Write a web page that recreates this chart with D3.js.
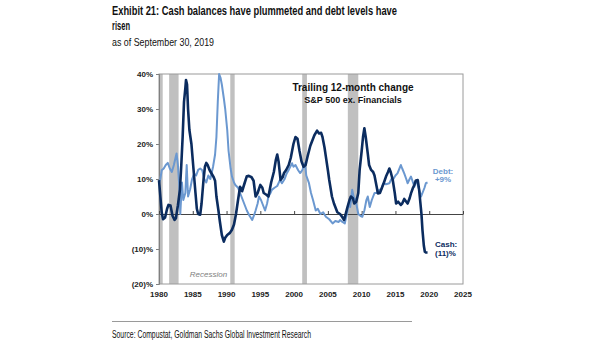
<!DOCTYPE html>
<html>
<head>
<meta charset="utf-8">
<script src="https://cdn.jsdelivr.net/npm/d3@7"></script>
<style>
  html, body { margin: 0; padding: 0; background: #fff; }
  svg { display: block; }
  .title { font-family: "Liberation Sans Narrow", "Arial Narrow", "Liberation Sans", sans-serif; fill: #111; }
  .chart-text { font-family: "Liberation Sans", Arial, sans-serif; }
</style>
</head>
<body>
<svg id="chart"></svg>
<script>
// Trailing 12-month change, S&P 500 ex. Financials (percent)
var cashYear = [1980.0, 1980.2, 1980.4, 1980.6, 1980.9, 1981.2, 1981.4, 1981.7, 1982.0, 1982.3, 1982.5, 1982.8,
  1983.1, 1983.3, 1983.5, 1983.7, 1983.9, 1984.0, 1984.15, 1984.3, 1984.5, 1984.8, 1985.1, 1985.4, 1985.6, 1985.8,
  1986.1, 1986.3, 1986.6, 1986.8, 1987.0, 1987.2, 1987.5, 1987.8, 1988.1, 1988.3, 1988.5, 1988.8, 1989.0, 1989.3,
  1989.6, 1989.8, 1990.1, 1990.5, 1990.8, 1991.1, 1991.4, 1991.7, 1992.0, 1992.3, 1992.7, 1993.0, 1993.3, 1993.7,
  1994.0, 1994.3, 1994.6, 1995.0, 1995.3, 1995.5, 1995.9, 1996.2, 1996.6, 1997.0, 1997.3, 1997.5, 1997.7, 1998.0,
  1998.3, 1998.5, 1998.8, 1999.2, 1999.5, 1999.9, 2000.2, 2000.5, 2000.8, 2001.1, 2001.4, 2001.7, 2002.0, 2002.4,
  2002.7, 2003.0, 2003.4, 2003.7, 2004.0, 2004.2, 2004.5, 2004.7, 2005.0, 2005.2, 2005.6, 2005.9, 2006.4, 2006.8,
  2007.1, 2007.4, 2007.7, 2007.9, 2008.2, 2008.4, 2008.7, 2008.9, 2009.2, 2009.5, 2009.7, 2010.0, 2010.2, 2010.4,
  2010.6, 2010.9, 2011.1, 2011.4, 2011.7, 2011.9, 2012.2, 2012.4, 2012.7, 2012.9, 2013.3, 2013.6, 2013.9, 2014.1,
  2014.3, 2014.6, 2014.9, 2015.1, 2015.4, 2015.8, 2016.0, 2016.3, 2016.6, 2016.8, 2017.1, 2017.3, 2017.6, 2017.8,
  2018.0, 2018.3, 2018.5, 2018.7, 2018.85, 2019.0, 2019.2, 2019.35, 2019.5, 2019.75];
var cashPct = [9.7, 5, 0.5, -1.5, -1, 1.5, 2.6, 2.4, -0.5, -1.7, -1.2, 2.5,
  7, 14, 22, 32, 36, 38.3, 37, 30, 24, 20, 13, 6, 1.5, 0,
  -0.2, 3, 10, 13.5, 14.6, 14, 12.5, 11.5, 10.5, 9.5, 5, 1, -2, -6,
  -7.9, -6.8, -6, -5.4, -4.5, -3, 0, 4, 7.8, 6.5, 9, 10.8, 10.9, 10.5,
  9.5, 5, 6, 8.3, 7.5, 6, 5.5, 5, 9, 12, 15.5, 17, 15, 9.7,
  10.5, 11.7, 12.5, 14, 16, 20, 22, 21.5, 18, 15, 13.5, 14, 16.5, 19.5,
  21, 22.5, 23.8, 23, 23.2, 22, 19, 16.4, 12.5, 9.7, 5, 3, 0.5, 0,
  -0.8, -1.7, 0.5, 2, 4, 5, 4.5, 3, 3.5, 6, 12.6, 18, 22, 24.5,
  22, 17.3, 14, 12.6, 12, 11, 8, 5.9, 6, 7, 9, 10.7, 12, 13,
  12, 9.7, 6, 3, 3.5, 2.6, 3, 4.3, 3.5, 3, 4.5, 5.9, 7.5, 8.3,
  9.5, 9.7, 7, 3, 0, -4.6, -9, -10.8, -11, -11];

var debtYear = [1980.0, 1980.2, 1980.4, 1980.7, 1981.0, 1981.3, 1981.6, 1981.9, 1982.2, 1982.5, 1982.6, 1982.8,
  1983.0, 1983.15, 1983.4, 1983.6, 1983.9, 1984.1, 1984.3, 1984.6, 1984.9, 1985.2, 1985.5, 1985.8, 1986.1, 1986.4,
  1986.7, 1987.0, 1987.3, 1987.6, 1988.0, 1988.3, 1988.5, 1988.7, 1988.9, 1989.1, 1989.3, 1989.6, 1989.8, 1990.1,
  1990.3, 1990.6, 1990.8, 1991.1, 1991.3, 1991.7, 1992.0, 1992.4, 1992.7, 1993.0, 1993.4, 1993.8, 1994.1, 1994.3,
  1994.6, 1994.8, 1995.1, 1995.3, 1995.7, 1996.0, 1996.2, 1996.5, 1996.7, 1997.1, 1997.5, 1997.9, 1998.2, 1998.6,
  1998.9, 1999.2, 1999.7, 1999.9, 2000.2, 2000.6, 2000.9, 2001.2, 2001.6, 2001.8, 2002.2, 2002.5, 2002.8, 2003.2,
  2003.5, 2003.9, 2004.3, 2004.7, 2005.2, 2005.7, 2006.1, 2006.6, 2006.8, 2007.1, 2007.5, 2007.8, 2008.1, 2008.3,
  2008.6, 2008.8, 2009.1, 2009.5, 2009.8, 2010.1, 2010.4, 2010.7, 2010.9, 2011.2, 2011.5, 2011.9, 2012.2, 2012.6,
  2012.9, 2013.2, 2013.6, 2014.1, 2014.4, 2014.6, 2015.0, 2015.3, 2015.7, 2015.8, 2016.0, 2016.3, 2016.6, 2016.8,
  2017.1, 2017.3, 2017.6, 2017.8, 2018.1, 2018.3, 2018.6, 2018.8, 2019.0, 2019.3, 2019.5, 2019.75];
var debtPct = [8.8, 10, 12.5, 13, 14, 14.6, 13, 12, 14, 16.5, 17.3, 14,
  8, 0, 9, 4, 6, 14, 5, 7, 10, 11.5, 11, 12.6, 13, 12.5,
  10, 9, 11, 10, 13.5, 17, 22, 32, 40, 39, 37, 33, 30, 24,
  18, 13, 10.7, 9, 8.3, 7.5, 6, 4, 2.5, 1, -0.5, -1.7, -0.2, 1,
  3, 5, 4, 3, 1, 3, 5, 6, 6.9, 7.5, 8, 9.7, 8.8, 10,
  11.6, 12.6, 14.5, 13.5, 14, 12.5, 11.7, 12.5, 14.5, 11, 8.8, 6, 4, 1,
  1.5, 0, 0.5, -0.8, -1.5, -2.7, -2, -2.3, -1.7, -2.2, -2.7, 0, 3, 2,
  6.9, 5, 4, 0, -0.5, -0.8, 1, 4, 5, 2, 4, 6, 6, 6.9,
  7, 8.8, 8.5, 8.8, 10, 9.7, 11, 11.6, 13.5, 14, 13, 11.6, 10, 8.8,
  10, 10.7, 9, 7.8, 9.7, 8.3, 6.4, 5, 6, 7.5, 8.8, 9];

// NBER recessions (start, end)
var recessionStart = [1980.0, 1981.5, 1990.55, 2001.2, 2007.95];
var recessionEnd = [1980.55, 1982.9, 1991.2, 2001.9, 2009.5];

var yTicks = [-20, -10, 0, 10, 20, 30, 40];
var yTickLabels = ["(20)%", "(10)%", "0%", "10%", "20%", "30%", "40%"];
var xTicks = [1980, 1985, 1990, 1995, 2000, 2005, 2010, 2015, 2020, 2025];

var width = 605;
var height = 341;
var margin = {top: 74, right: 142, bottom: 57, left: 159};

var cashColor = "#0b2c5f";
var debtColor = "#6b98d0";

var svg = d3.select("#chart")
            .attr("width", width)
            .attr("height", height);

var x = d3.scaleLinear()
          .domain([1980, 2025])
          .range([margin.left, width - margin.right]);

var y = d3.scaleLinear()
          .domain([-20, 40])
          .range([height - margin.bottom, margin.top]);

// title block (condensed face squeezed to the narrow width)
function titleLine(txt, yPos, size, bold, len) {
  svg.append("text")
     .attr("class", "title")
     .attr("x", 112)
     .attr("y", yPos)
     .attr("font-size", size + "px")
     .attr("font-weight", bold ? "bold" : "normal")
     .attr("textLength", len)
     .attr("lengthAdjust", "spacingAndGlyphs")
     .text(txt);
}
titleLine("Exhibit 21: Cash balances have plummeted and debt levels have", 15, 12.5, true, 285);
titleLine("risen", 30, 12.5, true, 18);
titleLine("as of September 30, 2019", 45.5, 11.5, false, 102);

// recession shading
svg.selectAll(".recession")
   .data(recessionStart)
   .enter().append("rect")
   .attr("class", "recession")
   .attr("x", d => x(d))
   .attr("y", y(40))
   .attr("width", (d, i) => x(recessionEnd[i]) - x(d))
   .attr("height", y(-20) - y(40))
   .attr("fill", "#c0c0c0");

// frame
svg.append("rect")
   .attr("x", x(1980))
   .attr("y", y(40))
   .attr("width", x(2025) - x(1980))
   .attr("height", y(-20) - y(40))
   .attr("fill", "none")
   .attr("stroke", "#9a9a9a")
   .attr("stroke-width", 1);

// y axis
var yAxis = svg.append("g")
               .attr("class", "chart-text")
               .attr("transform", `translate(${x(1980)},0)`)
               .call(d3.axisLeft(y)
                       .tickValues(yTicks)
                       .tickSize(3)
                       .tickPadding(3)
                       .tickFormat((d, i) => yTickLabels[i]));
yAxis.select(".domain").attr("stroke", "#808080");
yAxis.selectAll(".tick line").attr("stroke", "#808080");
yAxis.selectAll(".tick text")
     .attr("font-size", "8px")
     .attr("font-weight", "bold")
     .attr("fill", "#222");

// zero line with year ticks
var xAxis = svg.append("g")
               .attr("class", "chart-text")
               .attr("transform", `translate(0,${y(0)})`)
               .call(d3.axisTop(x)
                       .tickValues(xTicks)
                       .tickSize(3)
                       .tickSizeOuter(0)
                       .tickFormat(""));
xAxis.select(".domain").attr("stroke", "#444");
xAxis.selectAll(".tick line").attr("stroke", "#444");

// year labels along the bottom
svg.append("g")
   .attr("class", "chart-text")
   .selectAll("text")
   .data(xTicks)
   .enter().append("text")
   .attr("x", d => x(d))
   .attr("y", 297)
   .attr("text-anchor", "middle")
   .attr("font-size", "8px")
   .attr("font-weight", "bold")
   .attr("fill", "#222")
   .text(d => d);

var line = d3.line()
             .x(d => x(d[0]))
             .y(d => y(d[1]));

var debtData = debtYear.map((d, i) => [d, debtPct[i]]);
var cashData = cashYear.map((d, i) => [d, cashPct[i]]);

svg.append("path")
   .datum(debtData)
   .attr("fill", "none")
   .attr("stroke", debtColor)
   .attr("stroke-width", 2)
   .attr("stroke-linejoin", "round")
   .attr("d", line);

svg.append("path")
   .datum(cashData)
   .attr("fill", "none")
   .attr("stroke", cashColor)
   .attr("stroke-width", 2.6)
   .attr("stroke-linejoin", "round")
   .attr("d", line);

// annotations
var notes = svg.append("g").attr("class", "chart-text").attr("font-weight", "bold");
notes.append("text").attr("x", 353).attr("y", 91).attr("text-anchor", "middle")
     .attr("font-size", "10px").attr("fill", "#111").text("Trailing 12-month change");
notes.append("text").attr("x", 353).attr("y", 102.5).attr("text-anchor", "middle")
     .attr("font-size", "9px").attr("fill", "#111").text("S&P 500 ex. Financials");

var lastDebt = debtPct[debtPct.length - 1];
var lastCash = cashPct[cashPct.length - 1];
notes.append("text").attr("x", 443).attr("y", 173.5).attr("text-anchor", "middle")
     .attr("font-size", "8px").attr("fill", debtColor).text("Debt:");
notes.append("text").attr("x", 443).attr("y", 182).attr("text-anchor", "middle")
     .attr("font-size", "8px").attr("fill", debtColor).text("+" + lastDebt + "%");
notes.append("text").attr("x", 435).attr("y", 247).attr("text-anchor", "start")
     .attr("font-size", "8px").attr("fill", cashColor).text("Cash:");
notes.append("text").attr("x", 435).attr("y", 256).attr("text-anchor", "start")
     .attr("font-size", "8px").attr("fill", cashColor).text("(" + Math.abs(lastCash) + ")%");

svg.append("text")
   .attr("class", "chart-text")
   .attr("x", 208.5)
   .attr("y", 276.5)
   .attr("text-anchor", "middle")
   .attr("font-size", "8px")
   .attr("font-style", "italic")
   .attr("fill", "#808080")
   .text("Recession");

// source footer
svg.append("line")
   .attr("x1", 112).attr("x2", 412)
   .attr("y1", 321.5).attr("y2", 321.5)
   .attr("stroke", "#9a9a9a")
   .attr("stroke-width", 1);
svg.append("text")
   .attr("class", "title")
   .attr("x", 112)
   .attr("y", 337.5)
   .attr("font-size", "10px")
   .attr("fill", "#333")
   .attr("textLength", 199)
   .attr("lengthAdjust", "spacingAndGlyphs")
   .text("Source: Compustat, Goldman Sachs Global Investment Research");
</script>
</body>
</html>
